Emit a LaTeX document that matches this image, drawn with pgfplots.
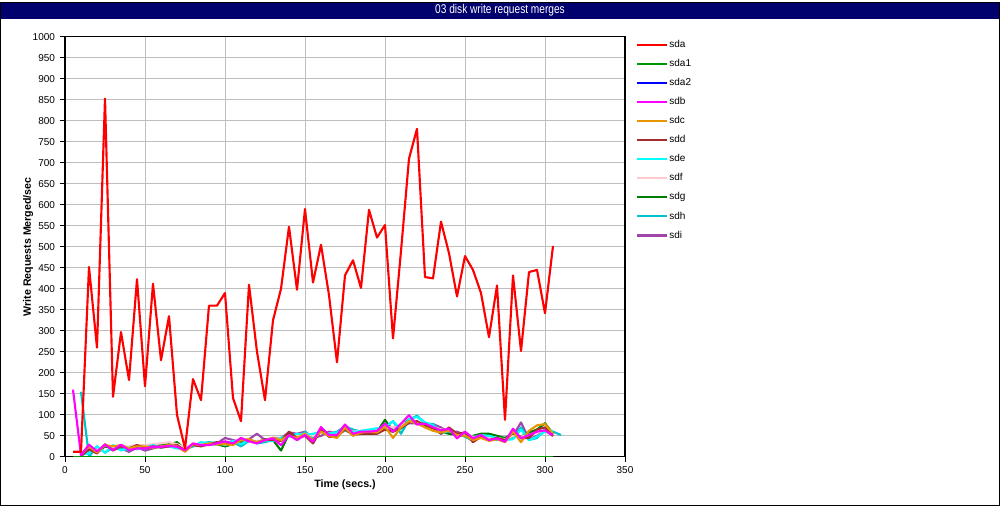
\documentclass[border=0pt]{standalone}
\usepackage{pgfplots}
\pgfplotsset{compat=1.18}
\usepackage{fontspec}
\setmainfont{Liberation Sans}
\definecolor{cSda}{RGB}{255,0,0}
\definecolor{cSdaA}{RGB}{0,150,0}
\definecolor{cSdaB}{RGB}{0,0,255}
\definecolor{cSdb}{RGB}{255,0,255}
\definecolor{cSdc}{RGB}{230,150,0}
\definecolor{cSdd}{RGB}{165,45,45}
\definecolor{cSde}{RGB}{0,255,255}
\definecolor{cSdf}{RGB}{255,200,205}
\definecolor{cSdg}{RGB}{0,125,0}
\definecolor{cSdh}{RGB}{0,195,205}
\definecolor{cSdi}{RGB}{160,70,170}
\definecolor{titlebg}{RGB}{0,0,110}
\definecolor{gridc}{RGB}{190,190,190}
\begin{document}
\begin{tikzpicture}[x=0.75pt,y=0.75pt]
\fill[white] (0,0) rectangle (1000,504);
\fill[titlebg] (0,487) rectangle (1000,504);
\node[text=white,font=\fontsize{9.5}{10}\selectfont] at (500,495.5) {\scalebox{0.8}[1]{03 disk write request merges}};
\begin{axis}[
  at={(48.75pt,36.75pt)}, anchor=south west,
  scale only axis, width=420pt, height=315pt,
  xmin=0, xmax=350, ymin=0, ymax=1000,
  xtick={0,50,...,350}, ytick={0,50,...,1000},
  grid=major, major grid style={gridc, line width=0.6pt},
  axis line style={black, line width=0.8pt},
  tick pos=left, tick align=outside, major tick length=4pt,
  tick style={black, line width=0.6pt},
  ticklabel style={font=\fontsize{7.5}{8}\selectfont},
  /pgf/number format/assume math mode=true,
  /pgf/number format/1000 sep={},
  xlabel={\textbf{Time (secs.)}}, ylabel={\textbf{Write Requests Merged/sec}},
  label style={font=\fontsize{8}{9}\selectfont},
  xlabel style={yshift=2.5pt},
  ylabel style={yshift=-7.25pt},
  reverse legend,
  legend cell align=left,
  legend style={at={(1,1)}, anchor=north west, xshift=8pt, yshift=-1.25pt, draw=none, fill=none,
    font=\fontsize{7.5}{8}\selectfont, inner sep=0pt, row sep=5.3pt,
    nodes={inner sep=1pt, text height=5.5pt, text depth=1.5pt}},
  legend image code/.code={\draw[#1, line width=1.6pt] (0pt,0pt) -- (22.5pt,0pt);},
  every axis plot/.append style={line width=1.6pt, line join=round},
]
% sdi
\addplot[cSdi] coordinates {(10,5)(15,20)(20,12)(25,25)(30,22)(35,20)(40,12)(45,22)(50,15)(55,20)(60,25)(65,28)(70,25)(75,22)(80,25)(85,30)(90,30)(95,32)(100,45)(105,40)(110,35)(115,42)(120,55)(125,40)(130,45)(135,45)(140,58)(145,55)(150,60)(155,45)(160,50)(165,60)(170,55)(175,75)(180,60)(185,60)(190,58)(195,60)(200,65)(205,60)(210,70)(215,80)(220,80)(225,78)(230,78)(235,70)(240,58)(245,60)(250,52)(255,45)(260,48)(265,45)(270,45)(275,40)(280,50)(285,82)(290,42)(295,50)(300,62)(305,50)};
\addlegendentry{sdi}
% sdh
\addplot[cSdh] coordinates {(10,155)(15,0)(20,25)(25,10)(30,22)(35,20)(40,15)(45,25)(50,20)(55,25)(60,28)(65,25)(70,22)(75,18)(80,25)(85,32)(90,35)(95,32)(100,30)(105,35)(110,25)(115,38)(120,32)(125,35)(130,40)(135,45)(140,55)(145,40)(150,60)(155,45)(160,65)(165,55)(170,60)(175,72)(180,65)(185,60)(190,62)(195,65)(200,70)(205,85)(210,55)(215,88)(220,98)(225,80)(230,78)(235,60)(240,58)(245,55)(250,48)(255,38)(260,52)(265,48)(270,40)(275,45)(280,45)(285,70)(290,40)(295,45)(300,65)(305,60)(310,52)};
\addlegendentry{sdh}
% sdg
\addplot[cSdg] coordinates {(10,3)(15,20)(20,10)(25,25)(30,20)(35,25)(40,22)(45,25)(50,25)(55,25)(60,28)(65,30)(70,35)(75,18)(80,28)(85,28)(90,30)(95,30)(100,25)(105,30)(110,38)(115,40)(120,35)(125,42)(130,40)(135,15)(140,55)(145,45)(150,52)(155,40)(160,62)(165,55)(170,50)(175,68)(180,55)(185,58)(190,60)(195,60)(200,88)(205,62)(210,72)(215,90)(220,78)(225,82)(230,70)(235,60)(240,55)(245,52)(250,50)(255,50)(260,55)(265,55)(270,50)(275,45)(280,55)(285,48)(290,58)(295,65)(300,80)(305,55)};
\addlegendentry{sdg}
% sdf
\addplot[cSdf] coordinates {(10,5)(15,20)(20,15)(25,28)(30,22)(35,25)(40,25)(45,28)(50,28)(55,30)(60,32)(65,35)(70,30)(75,22)(80,30)(85,30)(90,32)(95,32)(100,35)(105,35)(110,40)(115,38)(120,38)(125,40)(130,42)(135,45)(140,50)(145,50)(150,55)(155,50)(160,58)(165,55)(170,55)(175,62)(180,60)(185,62)(190,62)(195,65)(200,72)(205,70)(210,75)(215,85)(220,82)(225,78)(230,72)(235,65)(240,62)(245,55)(250,52)(255,48)(260,48)(265,45)(270,45)(275,42)(280,50)(285,48)(290,52)(295,58)(300,62)(305,55)};
\addlegendentry{sdf}
% sde
\addplot[cSde] coordinates {(10,5)(15,8)(20,25)(25,10)(30,28)(35,15)(40,22)(45,18)(50,22)(55,28)(60,22)(65,25)(70,20)(75,18)(80,25)(85,35)(90,32)(95,35)(100,28)(105,38)(110,30)(115,40)(120,35)(125,38)(130,38)(135,45)(140,48)(145,55)(150,52)(155,55)(160,60)(165,55)(170,58)(175,62)(180,58)(185,62)(190,65)(195,68)(200,70)(205,85)(210,65)(215,90)(220,95)(225,82)(230,75)(235,55)(240,62)(245,55)(250,50)(255,45)(260,52)(265,50)(270,45)(275,40)(280,42)(285,65)(290,40)(295,48)(300,60)(305,62)};
\addlegendentry{sde}
% sdd
\addplot[cSdd] coordinates {(10,2)(15,18)(20,8)(25,30)(30,15)(35,25)(40,20)(45,28)(50,22)(55,25)(60,22)(65,25)(70,28)(75,15)(80,28)(85,25)(90,30)(95,35)(100,32)(105,30)(110,42)(115,38)(120,35)(125,40)(130,40)(135,38)(140,60)(145,45)(150,50)(155,32)(160,65)(165,48)(170,48)(175,65)(180,52)(185,55)(190,55)(195,55)(200,65)(205,60)(210,68)(215,82)(220,85)(225,75)(230,68)(235,55)(240,70)(245,55)(250,58)(255,35)(260,48)(265,40)(270,45)(275,40)(280,58)(285,45)(290,45)(295,65)(300,70)(305,50)};
\addlegendentry{sdd}
% sdc
\addplot[cSdc] coordinates {(10,5)(15,25)(20,10)(25,28)(30,25)(35,28)(40,20)(45,25)(50,25)(55,22)(60,25)(65,28)(70,25)(75,12)(80,30)(85,28)(90,32)(95,30)(100,30)(105,28)(110,40)(115,42)(120,35)(125,40)(130,45)(135,40)(140,50)(145,45)(150,55)(155,40)(160,60)(165,50)(170,45)(175,70)(180,50)(185,58)(190,60)(195,58)(200,72)(205,45)(210,70)(215,85)(220,80)(225,70)(230,62)(235,58)(240,62)(245,52)(250,50)(255,40)(260,45)(265,38)(270,42)(275,35)(280,60)(285,35)(290,62)(295,75)(300,78)(305,55)};
\addlegendentry{sdc}
% sdb
\addplot[cSdb] coordinates {(5,160)(10,4)(15,29)(20,13)(25,29)(30,16)(35,29)(40,16)(45,20)(50,20)(55,24)(60,24)(65,26)(70,24)(75,16)(80,32)(85,28)(90,28)(95,32)(100,37)(105,32)(110,45)(115,37)(120,32)(125,40)(130,44)(135,28)(140,52)(145,40)(150,52)(155,36)(160,71)(165,52)(170,52)(175,77)(180,55)(185,60)(190,60)(195,62)(200,79)(205,60)(210,79)(215,99)(220,77)(225,79)(230,71)(235,63)(240,67)(245,44)(250,60)(255,44)(260,52)(265,40)(270,44)(275,36)(280,67)(285,44)(290,52)(295,60)(300,63)(305,52)};
\addlegendentry{sdb}
% sda2
\addplot[cSdaB] coordinates {(5,0)(305,0)};
\addlegendentry{sda2}
% sda1
\addplot[cSdaA] coordinates {(5,0)(305,0)};
\addlegendentry{sda1}
% sda
\addplot[cSda] coordinates {(5,12)(10,12)(15,452)(20,260)(25,853)(30,143)(35,297)(40,183)(45,423)(50,168)(55,412)(60,230)(65,335)(70,100)(75,20)(80,185)(85,135)(90,360)(95,360)(100,390)(105,140)(110,85)(115,410)(120,250)(125,135)(130,325)(135,400)(140,548)(145,398)(150,590)(155,415)(160,505)(165,385)(170,225)(175,432)(180,468)(185,402)(190,588)(195,522)(200,552)(205,282)(210,490)(215,710)(220,781)(225,428)(230,425)(235,560)(240,485)(245,382)(250,478)(255,445)(260,390)(265,285)(270,408)(275,88)(280,432)(285,252)(290,440)(295,445)(300,342)(305,502)};
\addlegendentry{sda}
\end{axis}
\draw[black, line width=0.75pt] (0.5,0.5) rectangle (999.5,503.5);
\end{tikzpicture}
\end{document}
